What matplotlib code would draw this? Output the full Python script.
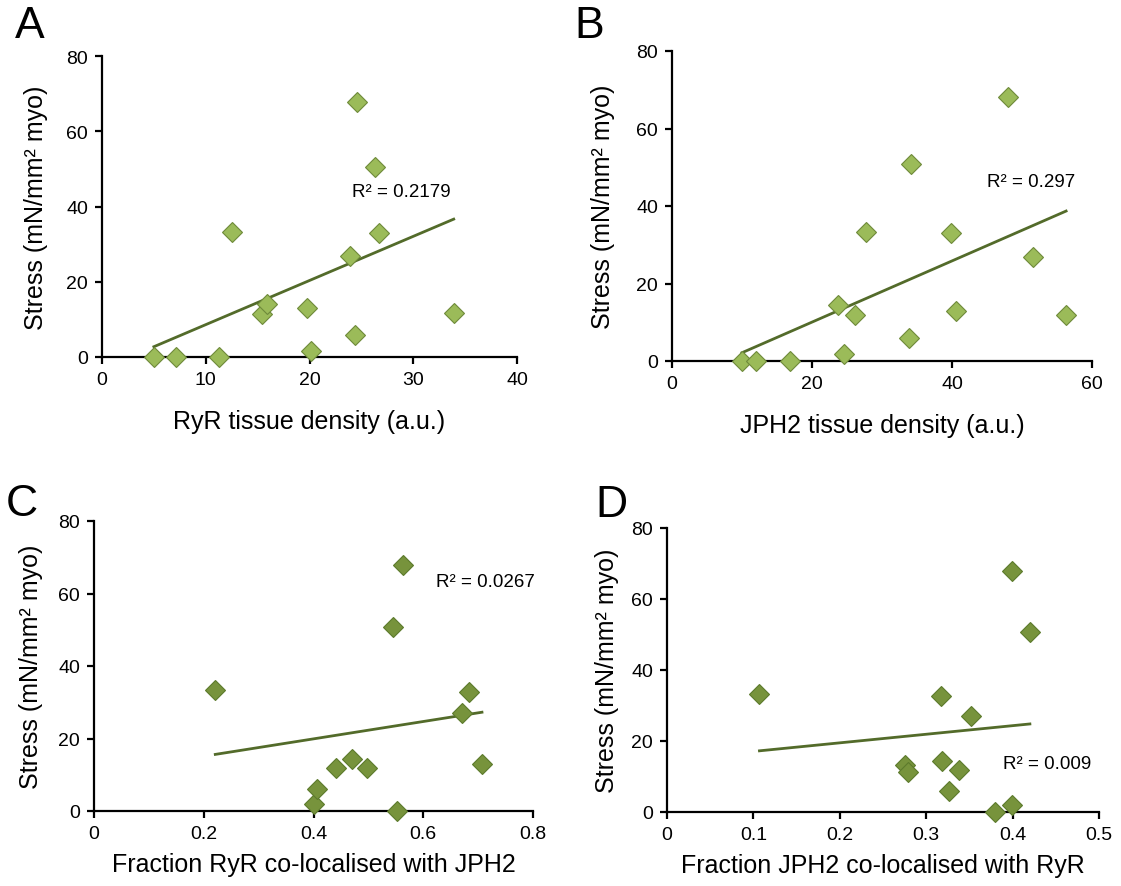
import numpy as np
import matplotlib
matplotlib.use('Agg')
import matplotlib.pyplot as plt

plt.rcParams['font.family'] = ['Liberation Sans', 'DejaVu Sans']

# Panel A: RyR tissue density vs stress
ryr_density = [5.0, 7.1, 11.3, 12.5, 15.4, 15.9, 19.8, 20.1, 23.9, 24.4, 24.6, 26.3, 26.7, 33.9]
stress_a = [0, 0, 0, 33.3, 11.4, 14.1, 12.9, 1.7, 26.9, 5.8, 67.9, 50.6, 32.9, 11.8]

# Panel B: JPH2 tissue density vs stress
jph2_density = [10.0, 12.0, 16.8, 23.7, 24.5, 26.1, 27.7, 33.8, 34.1, 39.8, 40.5, 48.0, 51.6, 56.3]
stress_b = [0, 0, 0, 14.4, 1.7, 11.8, 33.3, 5.9, 50.8, 33.1, 12.9, 68.1, 26.9, 11.8]

# Panel C: fraction RyR co-localised with JPH2
frac_ryr = [0.221, 0.400, 0.406, 0.441, 0.471, 0.497, 0.545, 0.553, 0.563, 0.670, 0.684, 0.707]
stress_c = [33.4, 1.8, 6.0, 12.0, 14.4, 12.0, 50.8, 0, 68.0, 27.0, 32.9, 13.0]

# Panel D: fraction JPH2 co-localised with RyR
frac_jph2 = [0.107, 0.275, 0.279, 0.317, 0.318, 0.326, 0.338, 0.352, 0.380, 0.399, 0.399, 0.420]
stress_d = [33.3, 13.1, 11.4, 32.8, 14.4, 5.9, 11.9, 27.0, 0, 68.0, 1.9, 50.6]

r2_text = ['R² = 0.2179', 'R² = 0.297', 'R² = 0.0267', 'R² = 0.009']
x_labels = ['RyR tissue density (a.u.)', 'JPH2 tissue density (a.u.)',
            'Fraction RyR co-localised with JPH2', 'Fraction JPH2 co-localised with RyR']
y_label = 'Stress (mN/mm² myo)'

W, H = 1121, 887
fig = plt.figure(figsize=(W / 100, H / 100), dpi=100)


def px_axes(left, top, right, bottom):
    return fig.add_axes([left / W, 1 - bottom / H, (right - left) / W, (bottom - top) / H])


panels = [
    dict(ax=px_axes(102, 57, 517, 358), x=ryr_density, y=stress_a, xlim=(0, 40),
         xticks=[0, 10, 20, 30, 40], fc='#9BBB59', ec='#6E8A3A', txt=(24.1, 43.9),
         xpad=15, ypad=13),
    dict(ax=px_axes(672, 52, 1092, 362), x=jph2_density, y=stress_b, xlim=(0, 60),
         xticks=[0, 20, 40, 60], fc='#9BBB59', ec='#6E8A3A', txt=(45.0, 46.2),
         xpad=15, ypad=15),
    dict(ax=px_axes(94, 522, 533, 812), x=frac_ryr, y=stress_c, xlim=(0, 0.8),
         xticks=[0, 0.2, 0.4, 0.6, 0.8], fc='#77933C', ec='#5C7A2C', txt=(0.6235, 63.4),
         xpad=7, ypad=11),
    dict(ax=px_axes(667, 529, 1099, 813), x=frac_jph2, y=stress_d, xlim=(0, 0.5),
         xticks=[0, 0.1, 0.2, 0.3, 0.4, 0.5], fc='#77933C', ec='#5C7A2C', txt=(0.389, 13.6),
         xpad=7, ypad=9),
]

for i, p in enumerate(panels):
    ax = p['ax']
    x = np.array(p['x'])
    y = np.array(p['y'])
    # linear trendline like Excel, over the data range
    k, b = np.polyfit(x, y, 1)
    xs = np.array([x.min(), x.max()])
    ax.plot(xs, k * xs + b, color='#536B2A', lw=2, zorder=2)
    ax.plot(x, y, linestyle='none', marker='D', markersize=10,
            markerfacecolor=p['fc'], markeredgecolor=p['ec'], markeredgewidth=0.8,
            zorder=3, clip_on=False)
    ax.set_xlim(p['xlim'])
    ax.set_ylim(0, 80)
    ax.set_xticks(p['xticks'])
    ax.set_xticklabels([('%g' % t) for t in p['xticks']])
    ax.set_yticks([0, 20, 40, 60, 80])
    for s in ['top', 'right']:
        ax.spines[s].set_visible(False)
    for s in ['left', 'bottom']:
        ax.spines[s].set_linewidth(1.6)
    ax.tick_params(direction='out', length=5, width=1.6, labelsize=14, pad=5)
    ax.set_xlabel(x_labels[i], fontsize=18, labelpad=p['xpad'])
    ax.set_ylabel(y_label, fontsize=18, labelpad=p['ypad'])
    ax.text(p['txt'][0], p['txt'][1], r2_text[i], fontsize=13.5, ha='left', va='center')

fig.text(30 / W, 1 - 26 / H, 'A', fontsize=32, ha='center', va='center')
fig.text(589 / W, 1 - 27 / H, 'B', fontsize=32, ha='center', va='center')
fig.text(22 / W, 1 - 505 / H, 'C', fontsize=32, ha='center', va='center')
fig.text(611 / W, 1 - 506 / H, 'D', fontsize=32, ha='center', va='center')

fig.savefig('out.png', dpi=100)
